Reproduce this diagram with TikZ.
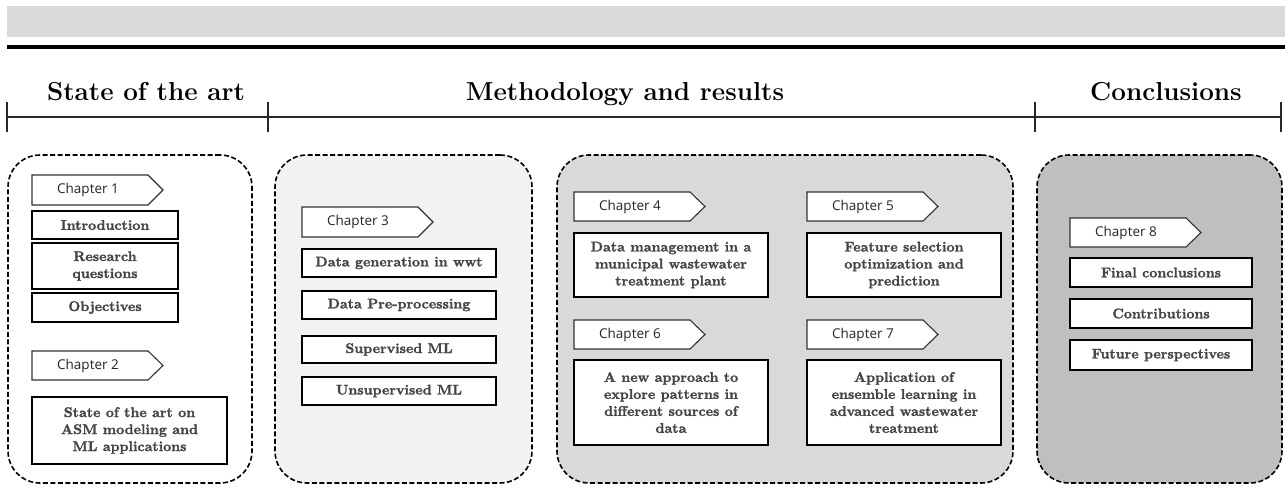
\documentclass[tikz,border=0pt]{standalone}
\usepackage{fontspec}
\newfontfamily\tagfont{Open Sans}
\newfontfamily\boxfont{lmroman10-bold}[Extension=.otf, FakeBold=1.6]
\usetikzlibrary{calc}
\definecolor{bandgray}{HTML}{D9D9D9}
\definecolor{phaseA}{HTML}{FFFFFF}
\definecolor{phaseB}{HTML}{F2F2F2}
\definecolor{phaseC}{HTML}{D9D9D9}
\definecolor{phaseD}{HTML}{BFBFBF}
\definecolor{boxtext}{HTML}{454545}

\tikzset{
  head/.style={font=\fontsize{26}{30}\selectfont\bfseries, anchor=base, inner sep=0pt},
  phase/.style={draw=black, line width=1.6pt, dash pattern=on 5pt off 2.5pt, rounded corners=32pt},
  tbox/.style={draw=black, line width=2.2pt, fill=white, align=center, inner sep=0pt,
    font=\boxfont\fontsize{14}{17}\selectfont, text=boxtext},
  ctagtext/.style={inner sep=0pt, font=\tagfont\fontsize{13.5}{16}\selectfont, text=black!85},
  ctagline/.style={draw=black!80, line width=1.1pt, fill=white},
  axis/.style={line width=1.8pt, black!85},
  tick/.style={line width=1.4pt, black!85}
}

% text box from its corners (x1,y1) and (x2,y2)
\newcommand\tbx[6]{%
  \node[tbox, minimum width={#4-#2}, minimum height={#5-#3}] (#1) at ({(#2+#4)/2},{(#3+#5)/2}) {#6};}
% chapter tag: body from x1 over 116pt, pointed end 15pt further
\newcommand\ctag[5]{%
  \path[ctagline] (#2,#3) -- ({#2+116},#3) -- ({#2+131},{(#3+#4)/2}) -- ({#2+116},#4) -- (#2,#4) -- cycle;
  \node[ctagtext] (#1) at ({#2+56},{(#3+#4)/2}) {#5};}

\begin{document}
\begin{tikzpicture}[x=1pt,y=-1pt]
\useasboundingbox (0,0) rectangle (1285,488);

% top band and rule
\fill[bandgray] (7,6) rectangle (1285,37);
\draw[line width=4pt] (7,47) -- (1285,47);

% section headings
\node[head] (h1) at (146,100) {State of the art};
\node[head] (h2) at (625,100) {Methodology and results};
\node[head] (h3) at (1166,100) {Conclusions};

% timeline
\coordinate (t0) at (7,117);
\coordinate (t1) at (268,117);
\coordinate (t2) at (1035,117);
\coordinate (t3) at (1281,117);
\draw[axis] (t0) -- (t3);
\foreach \t in {t0,t1,t2,t3}
  \draw[tick] ($(\t)+(0,-15)$) -- ($(\t)+(0,15)$);

% phase panels
\node[phase, fill=phaseA, minimum width=244, minimum height=328] (p1) at (130,319) {};
\node[phase, fill=phaseB, minimum width=257, minimum height=328] (p2) at (403.5,319) {};
\node[phase, fill=phaseC, minimum width=456, minimum height=328] (p3) at (785,319) {};
\node[phase, fill=phaseD, minimum width=245, minimum height=328] (p4) at (1159.5,319) {};

% state of the art
\ctag{c1}{32}{175}{205}{Chapter 1}
\tbx{intro}{32}{211}{178}{239}{Introduction}
\tbx{rq}{32}{243}{178}{289}{Research\\questions}
\tbx{obj}{32}{293}{178}{322}{Objectives}
\ctag{c2}{32}{351}{380}{Chapter 2}
\tbx{soa}{32}{397}{227}{464}{State of the art on\\ASM modeling and\\ML applications}

% methodology
\ctag{c3}{302}{207}{237}{Chapter 3}
\tbx{dg}{302}{249}{496}{277}{Data generation in wwt}
\tbx{dp}{302}{291}{496}{319}{Data Pre-processing}
\tbx{sml}{302}{336}{496}{363}{Supervised ML}
\tbx{uml}{302}{377}{496}{405}{Unsupervised ML}

% results
\ctag{c4}{574}{192}{221}{Chapter 4}
\tbx{dm}{574}{233}{768}{297}{Data management in a\\municipal wastewater\\treatment plant}
\ctag{c6}{574}{320}{349}{Chapter 6}
\tbx{na}{574}{360}{768}{445}{A new approach to\\explore patterns in\\different sources of\\data}
\ctag{c5}{807}{192}{221}{Chapter 5}
\tbx{fs}{807}{233}{1001}{297}{Feature selection\\optimization and\\prediction}
\ctag{c7}{807}{320}{349}{Chapter 7}
\tbx{ap}{807}{360}{1001}{445}{Application of\\ensemble learning in\\advanced wastewater\\treatment}

% conclusions
\ctag{c8}{1070}{218}{247}{Chapter 8}
\tbx{fc}{1070}{258}{1252}{287}{Final conclusions}
\tbx{co}{1070}{299}{1252}{328}{Contributions}
\tbx{fp}{1070}{340}{1252}{370}{Future perspectives}
\end{tikzpicture}
\end{document}
